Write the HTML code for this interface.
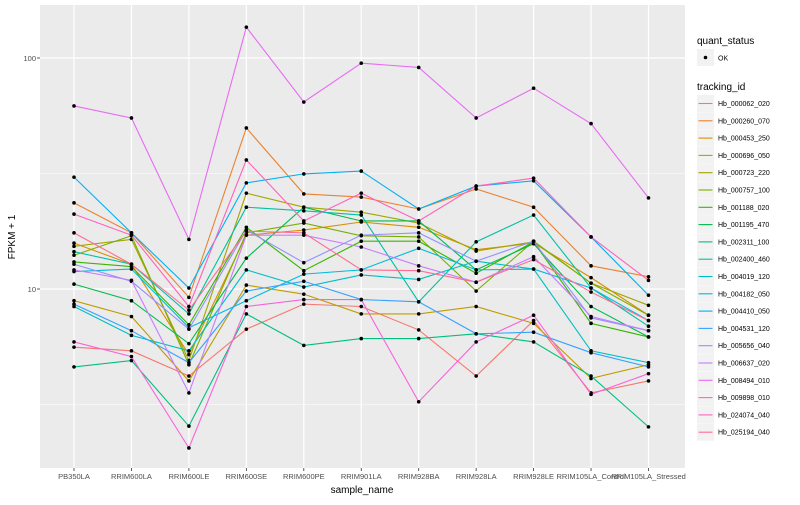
<!DOCTYPE html>
<html><head><meta charset="utf-8">
<style>
body{margin:0;background:#fff;font-family:"Liberation Sans",sans-serif;}
svg text{font-family:"Liberation Sans",sans-serif;}
</style></head>
<body>
<svg id="chart" width="800" height="500" viewBox="0 0 800 500"></svg>
<script>
const categories=["PB350LA","RRIM600LA","RRIM600LE","RRIM600SE","RRIM600PE","RRIM901LA","RRIM928BA","RRIM928LA","RRIM928LE","RRIM105LA_Control","RRIM105LA_Stressed"];
const seriesNames=["Hb_000062_020","Hb_000260_070","Hb_000453_250","Hb_000696_050","Hb_000723_220","Hb_000757_100","Hb_001188_020","Hb_001195_470","Hb_002311_100","Hb_002400_460","Hb_004019_120","Hb_004182_050","Hb_004410_050","Hb_004531_120","Hb_005656_040","Hb_006637_020","Hb_008494_010","Hb_009898_010","Hb_024074_040","Hb_025194_040"];
const s01=[5.6,5.4,4.2,6.7,8.6,8.4,6.65,4.2,7.3,3.55,4.0];
const s02=[23.6,17.5,9.2,49.8,25.8,25.0,22.2,27.1,22.6,12.6,11.3];
const s03=[15.8,12.8,5.2,17.1,18.0,19.5,18.5,14.8,15.8,11.2,7.7];
const s04=[8.9,7.6,4.0,10.4,9.5,7.8,7.8,8.4,7.1,4.1,4.7];
const s05=[15.3,16.4,4.9,26.0,22.6,21.5,19.3,14.6,16.0,10.6,8.5];
const s06=[14.0,17.0,4.7,17.5,19.3,17.0,16.8,9.8,16.1,10.6,7.7];
const s07=[13.1,12.5,7.0,18.5,12.0,16.1,16.1,11.7,16.0,7.1,6.2];
const s08=[10.5,8.9,5.8,13.6,22.6,19.7,19.7,12.1,15.7,8.4,6.2];
const s09=[4.6,4.9,2.55,7.8,5.7,6.1,6.1,6.4,5.9,4.2,2.53];
const s10=[14.5,12.8,7.8,22.6,21.8,20.9,8.8,16.0,20.9,10.1,6.9];
const s11=[8.4,6.3,5.4,12.1,10.2,11.5,11.0,13.2,12.2,5.4,4.8];
const s12=[11.9,12.2,6.8,8.9,11.6,12.1,15.0,12.1,12.2,10.1,7.3];
const s13=[30.5,17.5,10.1,28.8,31.5,32.4,22.2,27.9,29.4,16.8,9.4];
const s14=[8.6,6.6,4.8,9.8,10.8,9.0,8.8,6.4,6.5,5.3,4.6];
const s15=[12.8,10.8,6.7,18.0,13.0,17.1,17.5,13.2,16.1,7.5,6.6];
const s16=[12.1,10.9,3.55,17.1,17.1,15.2,12.6,10.7,13.8,7.6,6.6];
const s17=[62,55,16.4,136,64.5,95,91,55,74,52,24.8];
const s18=[5.9,5.1,2.05,8.4,9.0,9.0,3.25,5.9,7.7,3.5,4.3];
const s19=[21.1,17.1,8.4,36.2,19.7,26.0,19.7,27.9,30.2,16.8,10.9];
const s20=[17.5,12.8,8.1,17.8,17.5,12.1,12.0,10.7,13.4,9.7,7.3];
const seriesValues=[s01,s02,s03,s04,s05,s06,s07,s08,s09,s10,s11,s12,s13,s14,s15,s16,s17,s18,s19,s20];
const yTicks=[10,100];
const yMinor=[Math.sqrt(10),Math.sqrt(1000)];
const colors=["#F8766D","#EA8331","#D89000","#C09B00","#A3A500","#7CAE00","#39B600","#00BB4E","#00BF7D","#00C1A3","#00BFC4","#00BAE0","#00B0F6","#35A2FF","#9590FF","#C77CFF","#E76BF3","#FA62DB","#FF62BC","#FF6C91"];

const NS="http://www.w3.org/2000/svg";
const svg=document.getElementById('chart');
const P={l:40,r:685,t:5,b:468};
function x(i){return 74+i*57.45;}
function y(v){return 289-(Math.log10(v)-1)*231;}
function mk(tag,attrs,parent){const e=document.createElementNS(NS,tag);for(const k in attrs)e.setAttribute(k,attrs[k]);(parent||svg).appendChild(e);return e;}

const bg=mk('rect',{x:P.l,y:P.t,width:P.r-P.l,height:P.b-P.t,fill:'#EBEBEB'});


yMinor.forEach(v=>{const l=mk('line',{x1:P.l,x2:P.r,y1:y(v),y2:y(v),stroke:'#fff','stroke-width':0.6});

});
yTicks.forEach(v=>{const l=mk('line',{x1:P.l,x2:P.r,y1:y(v),y2:y(v),stroke:'#fff','stroke-width':1.2});


const t=mk('text',{x:36,y:y(v)+3,'text-anchor':'end','font-size':7.5,fill:'#4D4D4D'});t.textContent=v;


mk('line',{x1:37,x2:40,y1:y(v),y2:y(v),stroke:'#333','stroke-width':0.8});});
categories.forEach((c,i)=>{const l=mk('line',{x1:x(i),x2:x(i),y1:P.t,y2:P.b,stroke:'#fff','stroke-width':1.2});


mk('line',{x1:x(i),x2:x(i),y1:P.b,y2:P.b+3,stroke:'#333','stroke-width':0.8});
const t=mk('text',{x:x(i),y:479,'text-anchor':'middle','font-size':7.5,fill:'#4D4D4D'});t.textContent=c;

});

seriesValues.forEach((vals,si)=>{
 const g=mk('g',{});
 
 
 const pl=mk('polyline',{points:vals.map((v,i)=>x(i)+','+y(v)).join(' '),fill:'none',stroke:colors[si],'stroke-width':1.1},g);
 
 
 vals.forEach((v,i)=>{const c=mk('circle',{cx:x(i),cy:y(v),r:1.8,fill:'#000'},g);
 
 });
});

const xt=mk('text',{x:362,y:493,'text-anchor':'middle','font-size':10,fill:'#000'});xt.textContent='sample_name';


const yt=mk('text',{x:15,y:237,'text-anchor':'middle','font-size':10,fill:'#000',transform:'rotate(-90 15 237)'});yt.textContent='FPKM + 1';



const q=mk('text',{x:697,y:44,'font-size':10,fill:'#000'});q.textContent='quant_status';


const qk=mk('rect',{x:697,y:49,width:17,height:17,fill:'#F2F2F2'});


mk('circle',{cx:705.5,cy:57.5,r:1.8,fill:'#000'});
const qo=mk('text',{x:718,y:60.5,'font-size':7,fill:'#000'});qo.textContent='OK';


const tt=mk('text',{x:697,y:90,'font-size':10,fill:'#000'});tt.textContent='tracking_id';


seriesNames.forEach((n,i)=>{const yy=95+i*17.3;
 const g=mk('g',{});
 
 
 mk('rect',{x:697,y:yy,width:17,height:17,fill:'#F2F2F2'},g);
 mk('line',{x1:698.5,x2:712.5,y1:yy+8.5,y2:yy+8.5,stroke:colors[i],'stroke-width':1.1},g);
 const t=mk('text',{x:718,y:yy+11,'font-size':7,fill:'#000'},g);t.textContent=n;});
</script>
</body></html>
